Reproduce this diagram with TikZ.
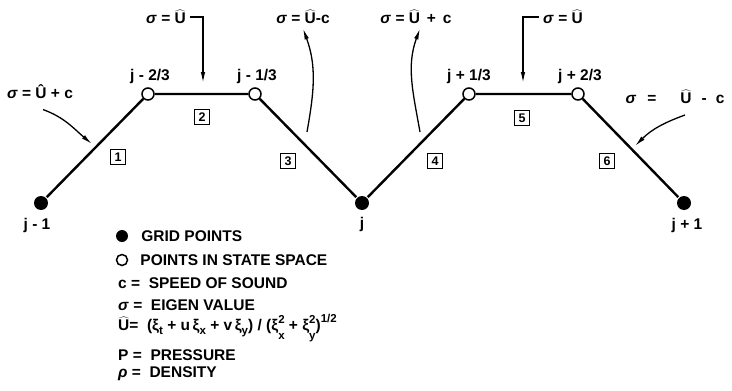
\documentclass[tikz,border=0pt]{standalone}
\usepackage{fontspec}
\setmainfont{Liberation Sans}
\usetikzlibrary{arrows.meta, positioning}
\newcommand{\Uh}{$\widehat{\mbox{U}}$}
\newcommand{\sig}{\textit{σ}}
\newcommand{\lo}[1]{\raisebox{-0.45ex}{\fontsize{11.5}{12}\selectfont #1}}
\newcommand{\hi}[1]{\raisebox{1.0ex}{\fontsize{11.5}{12}\selectfont #1}}
\newcommand{\xisub}[2]{ξ\rlap{\raisebox{0.9ex}{\fontsize{11.5}{12}\selectfont #1}}\raisebox{-1.0ex}{\fontsize{11.5}{12}\selectfont #2}}
\tikzset{
  every picture/.style={font=\fontsize{15.5}{18}\selectfont\bfseries, line width=2.4pt},
  gridpt/.style={circle, fill=black, inner sep=0pt, minimum size=14pt},
  statept/.style={circle, draw=black, fill=white, line width=1.5pt, inner sep=0pt, minimum size=12pt},
  cellbox/.style={draw, line width=1.3pt, inner sep=0pt, minimum size=15pt, font=\fontsize{12.5}{13}\selectfont\bfseries},
  arrow/.style={-{Latex[length=11pt, width=4.5pt]}, line width=1.3pt},
  legend/.style={anchor=west, inner sep=0pt},
}

\begin{document}
\begin{tikzpicture}[x=1pt, y=-1pt]
  \useasboundingbox (0,0) rectangle (732,391);
  % grid points and points in state space
  \node[gridpt] (g0) at (41,203) {};
  \node[statept] (s1) at (148,94) {};
  \node[statept] (s2) at (255,94) {};
  \node[gridpt] (g1) at (362,203) {};
  \node[statept] (s3) at (469,94) {};
  \node[statept] (s4) at (578,94) {};
  \node[gridpt] (g2) at (684,203) {};
  \draw (g0) -- (s1) -- (s2) -- (g1) -- (s3) -- (s4) -- (g2);
  \node (l0) at (37,225) {j - 1};
  \node (l1) at (150,76) {j - 2/3};
  \node (l2) at (257,76) {j - 1/3};
  \node (l3) at (362,224) {j};
  \node (l4) at (469,76) {j + 1/3};
  \node (l5) at (580,76) {j + 2/3};
  \node (l6) at (687,225) {j + 1};
  % cells
  \node[cellbox] (c1) at (118,157) {1};
  \node[cellbox] (c2) at (202,117) {2};
  \node[cellbox] (c3) at (288,161) {3};
  \node[cellbox] (c4) at (435,161) {4};
  \node[cellbox] (c5) at (522,118) {5};
  \node[cellbox] (c6) at (607,161) {6};
  % eigen values
  \node (e1) at (40,92) {\sig{} = Û + c};
  \node (e2) at (166,17) {\sig{} = \Uh};
  \node (e3) at (303,17) {\sig{} = \Uh-c};
  \node (e4) at (416,17) {\sig{} = \Uh\ \,+\ \,c};
  \node (e5) at (563,17) {\sig{} = \Uh};
  \node (e6) at (675,97) {\sig\hspace{11pt}=\hspace{24pt}\Uh\hspace{10pt}-\hspace{9pt}c};
  \coordinate (a1) at (92,144);
  \coordinate (a2) at (203,83);
  \coordinate (b3) at (307,132);
  \coordinate (b4) at (420,132);
  \coordinate (a5) at (523,83);
  \coordinate (b6) at (685,115);
  \coordinate (a6) at (635,146);
  \draw[arrow] ([xshift=3pt, yshift=-6pt]e1.south) to[out=-20, in=140] (a1);
  \draw[arrow] (e2.east) -| (a2);
  \draw[arrow] (b3) to[out=80, in=-70] (e3.south);
  \draw[arrow] (b4) to[out=100, in=-110] ([xshift=4pt]e4.south);
  \draw[arrow] (e5.west) -| (a5);
  \draw[arrow] (b6) to[out=200, in=45] (a6);
  % legend
  \node[gridpt, minimum size=12pt] (k1) at (122,236) {};
  \node[legend, right=11pt of k1] (k1t) {GRID POINTS};
  \node[statept, minimum size=11pt] (k2) at (122,260) {};
  \node[legend, right=11pt of k2] (k2t) {POINTS IN STATE SPACE};
  \node[legend] (k3) at (117,283) {c =\ \ SPEED OF SOUND};
  \node[legend] (k4) at (117,305) {\sig{} =\ \ EIGEN VALUE};
  \node[legend] (k5) at (117,328) {\Uh=\ \ (ξ\lo{t} + u\,ξ\lo{x} + v\,ξ\lo{y}) / (\xisub{2}{x} + \xisub{2}{y})\hi{1/2}};
  \node[legend] (k6) at (117,355) {P =\ \ PRESSURE};
  \node[legend] (k7) at (117,374) {\textit{ρ} =\ \ DENSITY};
\end{tikzpicture}
\end{document}
